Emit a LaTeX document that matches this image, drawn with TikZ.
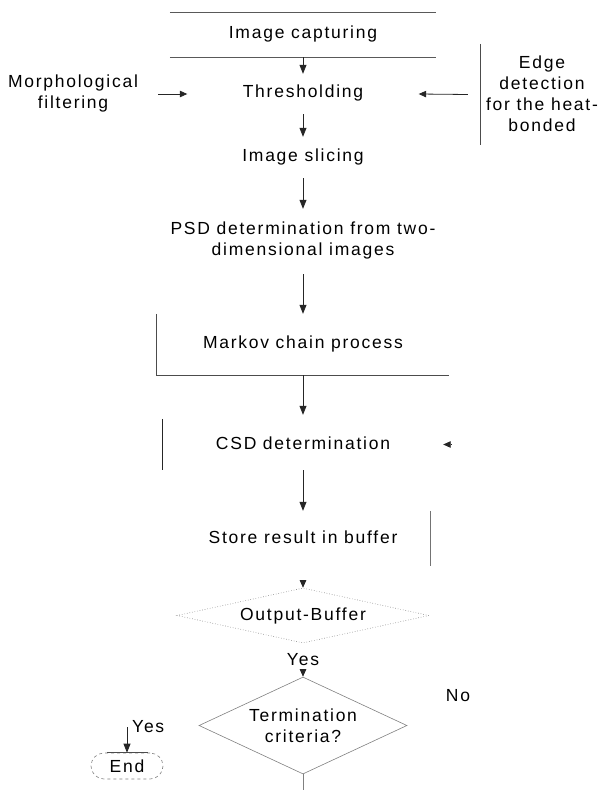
\documentclass[tikz,border=0pt]{standalone}
\usepackage{fontspec}
\setmainfont{Liberation Sans}[LetterSpace=10]
\usetikzlibrary{arrows.meta,shapes.geometric}
\begin{document}
\begin{tikzpicture}[x=1pt,y=-1pt,
  txt/.style={font=\fontsize{17.5}{21}\selectfont, align=center, inner sep=0pt, text=black},
  blk/.style={txt, minimum width=#1},
  ln/.style={draw=black!70, line width=0.8pt},
  arr/.style={draw=black!85, line width=0.8pt, -{Triangle[length=9pt,width=7pt]}},
  sarr/.style={draw=black!85, line width=0.8pt, -{Triangle[length=7.5pt,width=6.5pt]}},
  dia/.style={txt, shape=diamond, draw=black!50, line width=0.6pt},
]
\useasboundingbox (0,0) rectangle (613,790);

% invisible boxes carrying the texts
\node[blk=266pt, minimum height=44pt] (cap)  at (303,34)    {Image capturing};
\node[blk=231pt, minimum height=40pt] (thr)  at (303,93)    {Thresholding};
\node[blk=140pt, minimum height=47pt] (mor)  at (73,93)     {Morphological\\filtering};
\node[blk=122pt, minimum height=101pt] (edge) at (542,93.5) {Edge\\detection\\for the heat-\\bonded};
\node[blk=310pt, minimum height=41pt] (sli)  at (303,156.5) {Image slicing};
\node[blk=287pt, minimum height=65pt] (psd)  at (303,240.5) {PSD determination from two-\\dimensional images};
\node[blk=292pt, minimum height=61pt] (mar)  at (303,343.5) {Markov chain process};
\node[blk=280pt, minimum height=51pt] (csd)  at (303,443.5) {CSD determination};
\node[blk=255pt, minimum height=55pt] (sto)  at (303,537.5) {Store result in buffer};
\node[dia, dotted, minimum width=252pt, minimum height=55pt, shape aspect=4.58] (ob) at (303,615.5) {Output-Buffer};
\node[dia, minimum width=208pt, minimum height=97pt, shape aspect=2.14] (ter) at (303,725.5) {Termination\\criteria?};
\node[txt, draw=black!50, dashed, line width=0.6pt, rounded corners=13pt,
      minimum width=72pt, minimum height=26pt] (end) at (127,766) {End};

% labels
\node[txt] (yes1) at (303,660) {Yes};
\node[txt] (no)   at (458,696) {No};
\node[txt, anchor=west] (yes2) at (132,727) {Yes};

% partial borders
\draw[ln, draw=black!65] ([yshift=-1pt]cap.north west) -- ([yshift=-1pt]cap.north east)
                         ([yshift=-1pt]cap.south west) -- ([yshift=-1pt]cap.south east);
\draw[ln] ([yshift=-1pt]edge.north west) -- ([yshift=-1pt]edge.south west);
\draw[ln] ([yshift=-1pt]mar.north west) -- ([yshift=-1pt]mar.south west) -- ([yshift=-1pt]mar.south east);
\draw[ln, draw=black!85] ([yshift=-1pt]csd.north west) -- ([yshift=-1pt]csd.south west);
\draw[ln, draw=black!55] ([yshift=-1pt]sto.north east) -- ([yshift=-1pt]sto.south east);
\draw[ln] ([xshift=-20pt]end.north) -- ([xshift=21pt]end.north);

% connectors
\draw[arr] ([yshift=-1pt]cap.south) -- ([yshift=-1pt]thr.north);
\draw[arr] ([yshift=-1pt]thr.south) -- ([yshift=-1pt]sli.north);
\draw[arr] ([yshift=-1pt]sli.south) -- ([yshift=-1pt]psd.north);
\draw[arr] ([yshift=-1pt]psd.south) -- ([yshift=-1pt]mar.north);
\draw[arr, shorten >=4pt] ([yshift=-1pt]mar.south) -- ([yshift=-1pt]csd.north);
\draw[arr] ([yshift=-1pt]csd.south) -- ([yshift=-1pt]sto.north);
\draw[sarr] ([xshift=15pt,yshift=-1pt]mor.east) -- ([yshift=-1pt]thr.west);
\draw[sarr] ([xshift=-13pt,yshift=-1pt]edge.west) -- ([yshift=-1pt]thr.east);
\draw[sarr] ([xshift=8pt,yshift=-1pt]csd.east) -- ([yshift=-1pt]csd.east);

\coordinate (obin) at (303,580);
\draw[sarr] (obin) -- (ob.north);
\coordinate (terin) at (303,670);
\draw[sarr] (terin) -- (ter.north);
\coordinate (bot) at (303,790);
\draw[ln, draw=black!50] (ter.south) -- (bot);
\coordinate (endin) at (127,727);
\draw[arr] (endin) -- (end.north);
\end{tikzpicture}
\end{document}
